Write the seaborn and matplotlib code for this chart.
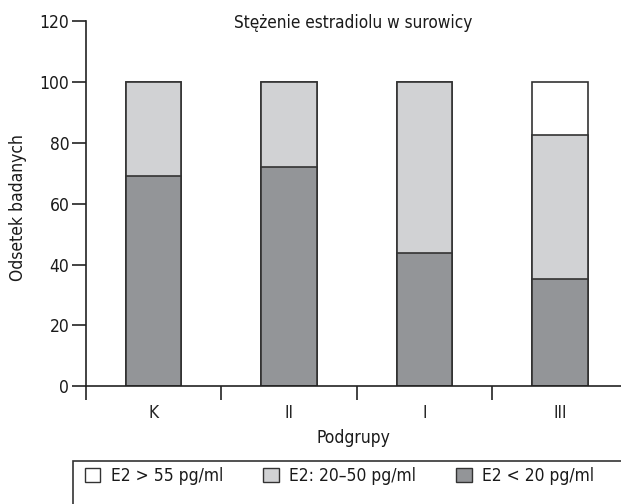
import matplotlib
matplotlib.use("Agg")
import matplotlib.pyplot as plt
import matplotlib.patches as mpatches
import matplotlib.transforms as mtransforms
import numpy as np
import pandas as pd
import seaborn as sns

# data
groups = ["K", "II", "I", "III"]
low = [69.2, 71.9, 43.8, 35.2]       # E2 < 20 pg/ml
mid = [30.8, 28.1, 56.2, 47.2]       # E2: 20-50 pg/ml
high = [0.0, 0.0, 0.0, 17.6]         # E2 > 55 pg/ml
legend_labels = ["E2 > 55 pg/ml", "E2: 20\u201350 pg/ml", "E2 < 20 pg/ml"]

c_high = "#ffffff"
c_mid = "#d1d2d4"
c_low = "#939598"
edge = "#333333"

sns.set_style("ticks")
plt.rcParams["font.family"] = ["DejaVu Sans"]
plt.rcParams["font.stretch"] = "condensed"
plt.rcParams["font.size"] = 12.5

df = pd.DataFrame({"group": groups, "low": low, "mid": mid, "high": high})
df["mid_top"] = df["low"] + df["mid"]
df["high_top"] = df["mid_top"] + df["high"]

fig = plt.figure(figsize=(6.21, 5.04), dpi=100)
ax = fig.add_axes([86 / 621, 117.7 / 504, 1 - 86 / 621, 365.3 / 504])

# stacked bars: draw cumulative totals back to front
for col, color in [("high_top", c_high), ("mid_top", c_mid), ("low", c_low)]:
    sns.barplot(data=df, x="group", y=col, order=groups, color=color,
                width=0.41, edgecolor=edge, linewidth=1.2, saturation=1, ax=ax)

ax.set_xlim(-0.5, 3.45)
ax.set_ylim(0, 120)
ax.set_yticks([0, 20, 40, 60, 80, 100, 120])
ax.set_xticks([-0.5, 0.5, 1.5, 2.5])
ax.set_xticklabels([])
ax.set_xticks(range(len(groups)), minor=True)
ax.set_xticklabels(groups, minor=True)
ax.tick_params(axis="x", which="major", direction="out", length=10, width=1.2, color="#222222")
ax.tick_params(axis="x", which="minor", bottom=True, length=0, pad=12.5, labelsize=12.5)
ax.tick_params(axis="y", direction="out", length=10, width=1.2, color="#222222", pad=2)
ax.tick_params(labelcolor="#1a1a1a", labelsize=12.5)

for s in ["top", "right"]:
    ax.spines[s].set_visible(False)
for s in ["left", "bottom"]:
    ax.spines[s].set_color("#222222")
    ax.spines[s].set_linewidth(1.2)
ax.spines["left"].set_bounds(0, 120)

ax.set_xlabel("Podgrupy", labelpad=5, color="#1a1a1a", fontsize=12.5)
ax.set_ylabel("Odsetek badanych", color="#1a1a1a", fontsize=12.5)
ax.yaxis.set_label_coords((27 - 86) / 535, (386.3 - 208) / 365.3)

trans = mtransforms.blended_transform_factory(ax.transAxes, ax.transData)
ax.text(0.5, 117.7, "St\u0119\u017cenie estradiolu w surowicy", ha="center",
        va="baseline", transform=trans, fontsize=12.3, color="#1a1a1a")

# legend box running off the right and bottom edges
box = mpatches.Rectangle((73 / 621, -0.1), 1.0, (504 - 460.7) / 504 + 0.1,
                         transform=fig.transFigure, facecolor="white",
                         edgecolor="#333333", linewidth=1.2, clip_on=False)
fig.patches.append(box)

handles = [mpatches.Patch(facecolor=c, edgecolor=edge, linewidth=1.0)
           for c in [c_high, c_mid, c_low]]
fig.legend(handles, legend_labels, ncol=3, loc="center left",
           bbox_to_anchor=(69 / 621, 1 - 476 / 504), frameon=False,
           handlelength=0.9, handleheight=0.9, handletextpad=0.6,
           columnspacing=2.3, fontsize=12.5, labelcolor="#1a1a1a")

fig.savefig("out.png", dpi=100)
